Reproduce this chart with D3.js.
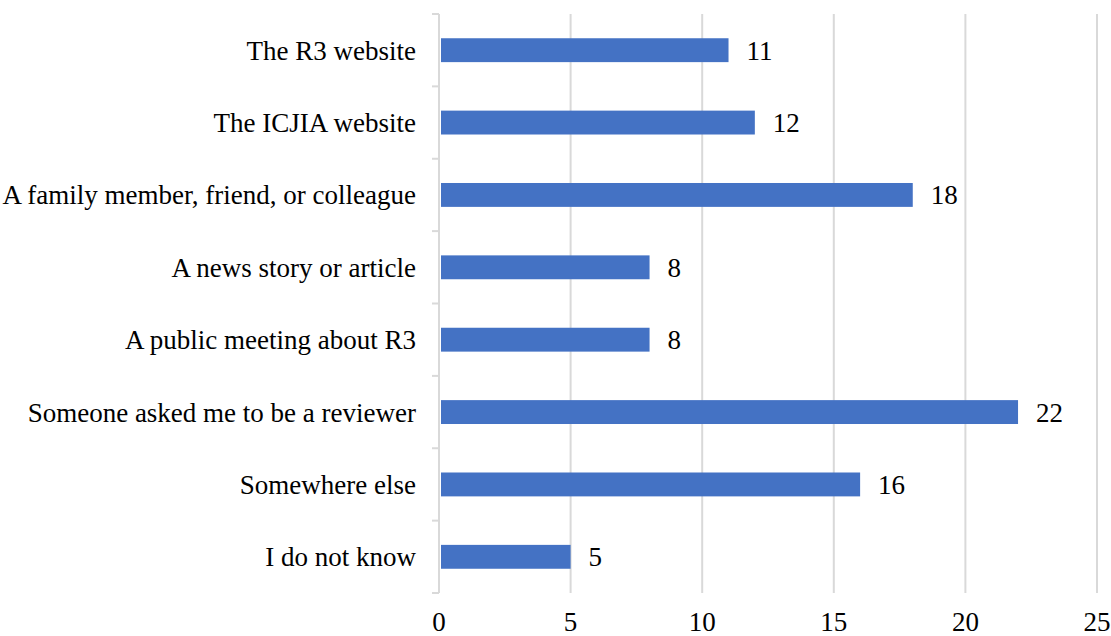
<!DOCTYPE html>
<html>
<head>
<meta charset="utf-8">
<script src="https://cdn.jsdelivr.net/npm/d3@7"></script>
<style>
  body { margin: 0; background: #fff; }
  text { font-family: "Liberation Serif", "Times New Roman", serif; fill: #000; }
</style>
</head>
<body>
<div id="chart"></div>
<script>
// chart data
const categories = ["The R3 website", "The ICJIA website", "A family member, friend, or colleague",
  "A news story or article", "A public meeting about R3", "Someone asked me to be a reviewer",
  "Somewhere else", "I do not know"];
const counts = [11, 12, 18, 8, 8, 22, 16, 5];
const xTicks = [0, 5, 10, 15, 20, 25];

const W = 1111, H = 636;
const margin = { top: 14, right: 14, bottom: 43, left: 439 };
const width = 1097 - margin.left,
  height = H - margin.top - margin.bottom;

const svg = d3.select("#chart").append("svg")
  .attr("width", W)
  .attr("height", H)
  .append("g")
  .attr("transform", `translate(${margin.left},${margin.top})`);

const x = d3.scaleLinear().domain([0, 25]).range([0, width]);
const y = d3.scaleBand().domain(categories).range([0, height]).paddingInner(0.67).paddingOuter(0.335);
const band = d3.scaleBand().domain(categories).range([0, height]);

// vertical gridlines
svg.selectAll(".grid")
  .data(xTicks.filter(d => d > 0))
  .enter().append("line")
  .attr("x1", d => x(d)).attr("x2", d => x(d))
  .attr("y1", 0).attr("y2", height)
  .attr("stroke", "#d9d9d9").attr("stroke-width", 2);

// y axis line + ticks between categories
svg.append("line")
  .attr("x1", 0).attr("x2", 0).attr("y1", 0).attr("y2", height)
  .attr("stroke", "#d9d9d9").attr("stroke-width", 2);

const bounds = categories.map(c => band(c)).concat([height]);
svg.selectAll(".ytick")
  .data(bounds)
  .enter().append("line")
  .attr("x1", -7).attr("x2", 0)
  .attr("y1", d => d).attr("y2", d => d)
  .attr("stroke", "#d9d9d9").attr("stroke-width", 2);

// bars
svg.selectAll("rect")
  .data(categories)
  .enter().append("rect")
  .attr("x", x(0) + 2)
  .attr("y", d => y(d))
  .attr("width", (d, i) => x(counts[i]) - x(0) - 2)
  .attr("height", y.bandwidth())
  .attr("fill", "#4472c4");

// value labels
svg.selectAll(".val")
  .data(categories)
  .enter().append("text")
  .attr("x", (d, i) => x(counts[i]) + 18)
  .attr("y", d => y(d) + y.bandwidth() / 2)
  .attr("dy", "0.35em")
  .style("font-size", "27px")
  .text((d, i) => counts[i]);

// category labels
svg.selectAll(".cat")
  .data(categories)
  .enter().append("text")
  .attr("x", -23)
  .attr("y", d => y(d) + y.bandwidth() / 2)
  .attr("dy", "0.35em")
  .attr("text-anchor", "end")
  .style("font-size", "27px")
  .text(d => d);

// x tick labels
svg.selectAll(".xt")
  .data(xTicks)
  .enter().append("text")
  .attr("x", d => x(d))
  .attr("y", height + 38)
  .attr("text-anchor", "middle")
  .style("font-size", "27px")
  .text(d => d);
</script>
</body>
</html>
